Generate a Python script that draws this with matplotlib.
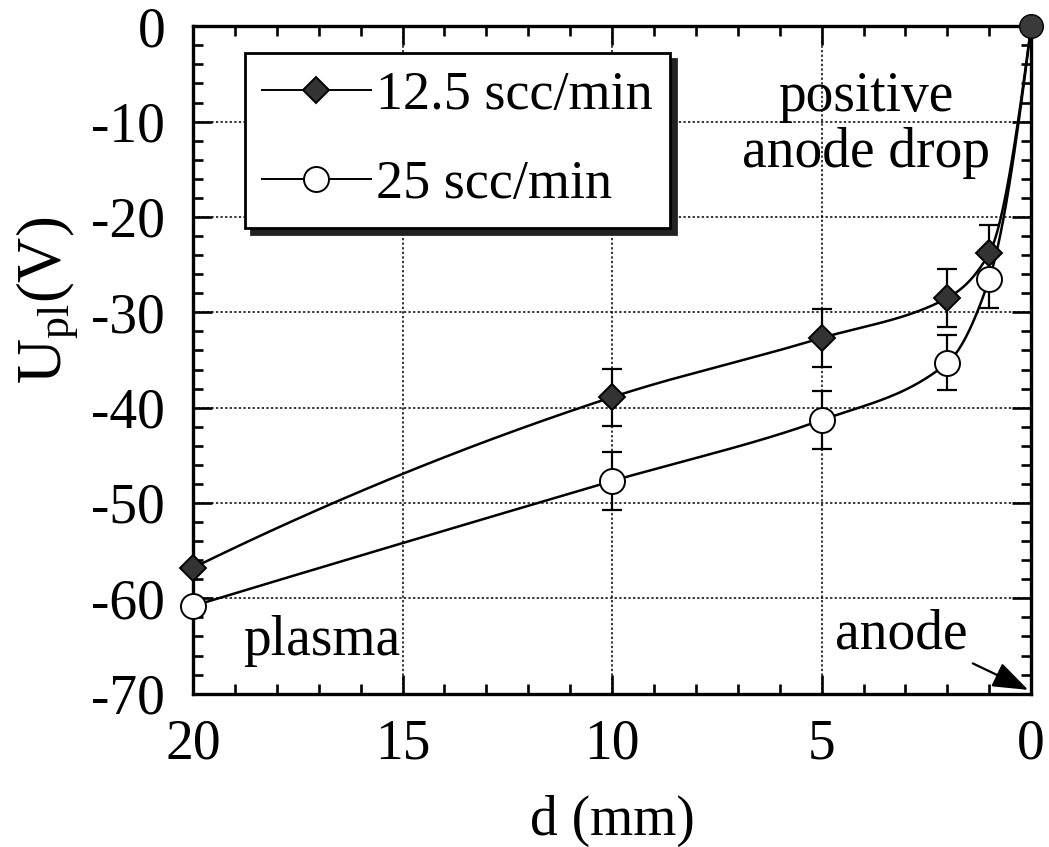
import numpy as np
import matplotlib
matplotlib.use('Agg')
import matplotlib.pyplot as plt
from matplotlib.ticker import MultipleLocator

plt.rcParams['font.family'] = ['Liberation Serif', 'DejaVu Serif']
plt.rcParams['mathtext.fontset'] = 'custom'
plt.rcParams['mathtext.rm'] = 'Liberation Serif'
plt.rcParams['mathtext.it'] = 'Liberation Serif:italic'
plt.rcParams['axes.unicode_minus'] = False

# data
d_mm = [20, 10, 5, 2, 1]
u_125 = [-56.8, -38.9, -32.7, -28.5, -23.8]
err_125 = [0, 3.0, 3.0, 3.0, 3.0]
u_25 = [-60.8, -47.7, -41.3, -35.3, -26.5]
err_25 = [0, 3.0, 3.0, 2.9, 3.0]
anode_d = [0]
anode_u = [0]


def smooth_curve(x, y, n=300):
    # monotone cubic (Fritsch-Carlson) line through the points
    x = np.asarray(x, float)
    y = np.asarray(y, float)
    order = np.argsort(x)
    x, y = x[order], y[order]
    h = np.diff(x)
    delta = np.diff(y) / h
    m = np.zeros_like(x)
    m[1:-1] = np.where(delta[:-1] * delta[1:] > 0,
                       (3 * (h[:-1] + h[1:])) / ((2 * h[1:] + h[:-1]) / delta[:-1] + (h[1:] + 2 * h[:-1]) / delta[1:]),
                       0)
    m[0] = ((2 * h[0] + h[1]) * delta[0] - h[0] * delta[1]) / (h[0] + h[1])
    if np.sign(m[0]) != np.sign(delta[0]):
        m[0] = 0
    m[-1] = ((2 * h[-1] + h[-2]) * delta[-1] - h[-1] * delta[-2]) / (h[-1] + h[-2])
    if np.sign(m[-1]) != np.sign(delta[-1]):
        m[-1] = 0
    xs = np.linspace(x[0], x[-1], n)
    idx = np.clip(np.searchsorted(x, xs) - 1, 0, len(h) - 1)
    t = (xs - x[idx]) / h[idx]
    h00 = 2 * t**3 - 3 * t**2 + 1
    h10 = t**3 - 2 * t**2 + t
    h01 = -2 * t**3 + 3 * t**2
    h11 = t**3 - t**2
    ys = h00 * y[idx] + h10 * h[idx] * m[idx] + h01 * y[idx + 1] + h11 * h[idx] * m[idx + 1]
    return xs, ys


fig = plt.figure(figsize=(10.49, 8.47), dpi=100)
ax = fig.add_axes([0.184, 0.181, 0.799, 0.788])

lw = 1.8
for d, u, err, mk, fc, ms, lab in [
        (d_mm, u_125, err_125, 'D', '#333333', 13.5, '12.5 scc/min'),
        (d_mm, u_25, err_25, 'o', 'white', 18, '25 scc/min')]:
    cx, cy = smooth_curve(d + anode_d, u + anode_u)
    ax.plot(cx, cy, color='black', lw=lw, zorder=3)
    e = np.array(err)
    mask = e > 0
    ax.errorbar(np.array(d)[mask], np.array(u)[mask], yerr=e[mask], fmt='none',
                ecolor='black', elinewidth=1.6, capsize=7, capthick=1.6, zorder=4)
    ax.plot(d, u, linestyle='none', marker=mk, markersize=ms, markerfacecolor=fc,
            markeredgecolor='black', markeredgewidth=1.4, clip_on=False, zorder=5)
    ax.plot([], [], color='black', lw=1.4, marker=mk, markersize=ms,
            markerfacecolor=fc, markeredgecolor='black', markeredgewidth=1.4, label=lab)

ax.plot(anode_d, anode_u, linestyle='none', marker='o', markersize=17,
        markerfacecolor='#3a3a3a', markeredgecolor='black', clip_on=False, zorder=6)

ax.set_xlim(20, 0)
ax.set_ylim(-70, 0)
ax.xaxis.set_major_locator(MultipleLocator(5))
ax.xaxis.set_minor_locator(MultipleLocator(1))
ax.yaxis.set_major_locator(MultipleLocator(10))
ax.yaxis.set_minor_locator(MultipleLocator(2))
ax.grid(True, which='major', color='black', linestyle=(0, (1.5, 1.5)), lw=1.1)

for s in ax.spines.values():
    s.set_linewidth(2.4)
ax.tick_params(which='both', direction='in', top=True, right=True, width=1.9)
ax.tick_params(which='major', length=14, labelsize=40, pad=18)
ax.tick_params(which='minor', length=7)
ax.tick_params(axis='y', pad=20)

ax.set_xlabel('d (mm)', fontsize=40, labelpad=17)
ax.set_ylabel(r'$\mathrm{U_{pl}}$(V)', fontsize=45)
ax.yaxis.set_label_coords(-0.135, 0.59)

leg = ax.legend(loc='upper left', bbox_to_anchor=(0.062, 0.96), fontsize=39,
                frameon=True, fancybox=False, handlelength=2.0, handletextpad=0.1,
                borderpad=0.32, labelspacing=0.72, borderaxespad=0,
                shadow={'ox': 4.5, 'oy': -4.5, 'color': '#222222', 'alpha': 1})
leg.get_frame().set_edgecolor('black')
leg.get_frame().set_linewidth(2.0)
leg.set_zorder(10)

ax.text(3.94, -10.4, 'positive\nanode drop', fontsize=40, ha='center', va='center',
        linespacing=1.1, zorder=7)
ax.text(18.8, -65.9, 'plasma', fontsize=40, ha='left', va='baseline', zorder=7)
ax.annotate('anode', xy=(0.07, -69.6), xytext=(4.68, -65.3), fontsize=40,
            ha='left', va='baseline', zorder=7,
            arrowprops=dict(arrowstyle='-|>,head_length=0.55,head_width=0.2',
                            color='black', lw=1.6, shrinkA=2, shrinkB=0,
                            relpos=(1.0, 0.0)))

fig.savefig('out.png', dpi=100)
plt.close()
